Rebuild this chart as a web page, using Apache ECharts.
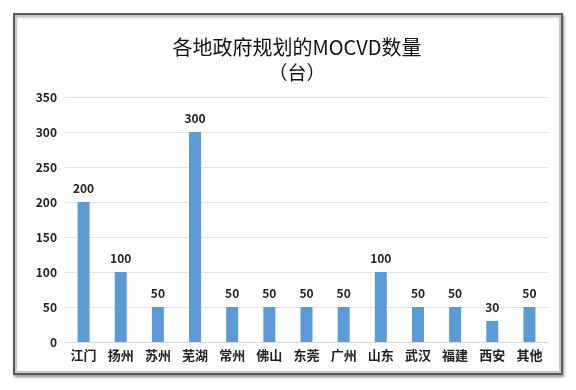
<!DOCTYPE html>
<html><head><meta charset="utf-8">
<script src="https://cdn.jsdelivr.net/npm/echarts@6/dist/echarts.min.js"></script>
<style>html,body{margin:0;padding:0;background:#fff}#c{width:576px;height:390px}</style>
</head><body><div id="c"></div>
<script>
const categories = ['江门','扬州','苏州','芜湖','常州','佛山','东莞','广州','山东','武汉','福建','西安','其他'];
const values = [200,100,50,300,50,50,50,50,100,50,50,30,50];
const titleText = '各地政府规划的MOCVD数量';
const subtitleText = '（台）';
const FONT = '"Noto Sans CJK SC", "Noto Sans", sans-serif';
const chart = echarts.init(document.getElementById('c'), null, {renderer:'canvas'});
chart.setOption({
  animation:false,
  backgroundColor:'#fff',
  graphic:[
    {type:'rect', shape:{x:14,y:14,width:548,height:360}, style:{fill:'#fff',stroke:'#5a5a5a',lineWidth:2, shadowBlur:3, shadowColor:'rgba(0,0,0,0.35)', shadowOffsetX:1, shadowOffsetY:2}, z:-10},
    {type:'rect', shape:{x:16,y:16,width:544,height:356}, style:{fill:'none',stroke:'#c8c8c8',lineWidth:2}, z:-9}
  ],
  title:{
    text:titleText, subtext:subtitleText, left:292, top:32, textAlign:'center', itemGap:6,
    textStyle:{fontFamily:FONT, fontSize:20, fontWeight:'normal', color:'#111'},
    subtextStyle:{fontFamily:FONT, fontSize:19, color:'#111'}
  },
  grid:{left:65, right:28, top:97, bottom:48, containLabel:false},
  xAxis:{
    type:'category', data:categories,
    axisLine:{show:true, lineStyle:{color:'#d9d9d9'}},
    axisTick:{show:false},
    axisLabel:{fontFamily:FONT, fontSize:13, fontWeight:'bold', color:'#222', margin:7, interval:0}
  },
  yAxis:{
    type:'value', min:0, max:350, interval:50,
    axisLine:{show:false}, axisTick:{show:false},
    splitLine:{lineStyle:{color:'#e3e3e3'}},
    axisLabel:{fontFamily:FONT, fontSize:12, fontWeight:'bold', color:'#222', margin:8}
  },
  series:[{
    type:'bar', data:values, barWidth:12,
    itemStyle:{color:'#5b9bd5'},
    label:{show:true, position:'top', distance:8, fontFamily:FONT, fontSize:12, fontWeight:'bold', color:'#222'}
  }]
});
</script></body></html>
